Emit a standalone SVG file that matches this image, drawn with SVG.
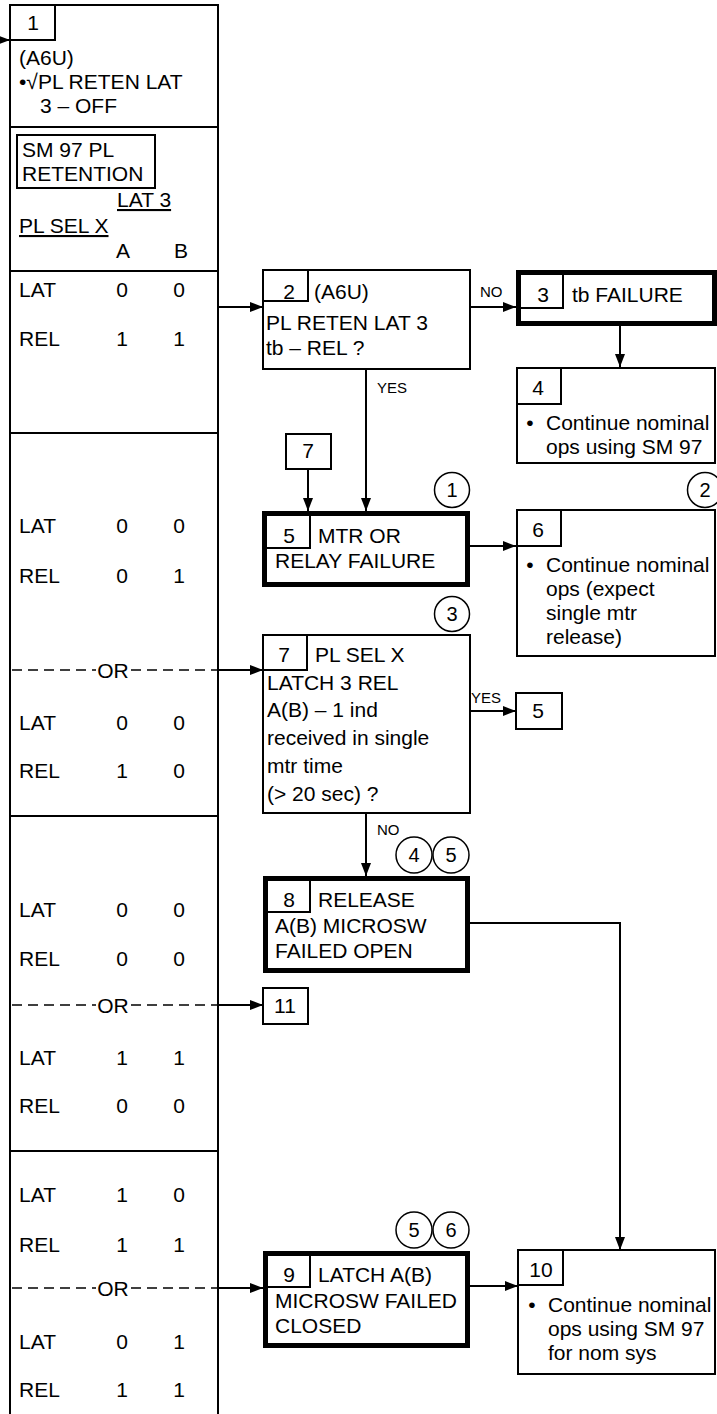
<svg xmlns="http://www.w3.org/2000/svg" width="717" height="1414" viewBox="0 0 717 1414">
<style>
text{font-family:"Liberation Sans",Arial,sans-serif;font-size:21px;fill:#000}
.c{text-anchor:middle}
.lb{font-size:15px}
.cd{font-size:20px;text-anchor:middle}
.bx{fill:#fff;stroke:#000;stroke-width:2}
.tk{fill:#fff;stroke:#000;stroke-width:5}
.ln{fill:none;stroke:#000;stroke-width:2}
.ds{fill:none;stroke:#000;stroke-width:1.5;stroke-dasharray:10 6}
.ci{fill:#fff;stroke:#000;stroke-width:1.5}
</style>
<defs>
<marker id="ah" markerUnits="userSpaceOnUse" markerWidth="13" markerHeight="10" refX="13" refY="5" orient="auto">
<path d="M0,0 L13,5 L0,10 z" fill="#000"/>
</marker>
</defs>

<g id="n1">
<rect class="bx" x="10" y="5" width="208" height="1420" stroke-width="2.5"/>
<path class="ln" d="M10,40 H55 V5"/>
<text class="c" x="33" y="30">1</text>
<text x="19" y="65">(A6U)</text>
<text x="19" y="89">•√PL RETEN LAT</text>
<text x="40" y="113">3 – OFF</text>
<path class="ln" d="M10,127 H218 M10,271 H218 M10,433 H218 M10,816 H218 M10,1151 H218"/>
<rect class="bx" x="17" y="135" width="138" height="53"/>
<text x="22" y="157">SM 97 PL</text>
<text x="22" y="181">RETENTION</text>
<text x="117" y="207" text-decoration="underline">LAT 3</text>
<text x="19" y="233" text-decoration="underline">PL SEL X</text>
<text class="c" x="123" y="258">A</text>
<text class="c" x="181" y="258">B</text>
<g>
<text x="19" y="297">LAT</text><text class="c" x="122" y="297">0</text><text class="c" x="179" y="297">0</text>
<text x="19" y="346">REL</text><text class="c" x="122" y="346">1</text><text class="c" x="179" y="346">1</text>
<text x="19" y="533">LAT</text><text class="c" x="122" y="533">0</text><text class="c" x="179" y="533">0</text>
<text x="19" y="583">REL</text><text class="c" x="122" y="583">0</text><text class="c" x="179" y="583">1</text>
<text class="c" x="113" y="678">OR</text>
<text x="19" y="730">LAT</text><text class="c" x="122" y="730">0</text><text class="c" x="179" y="730">0</text>
<text x="19" y="778">REL</text><text class="c" x="122" y="778">1</text><text class="c" x="179" y="778">0</text>
<text x="19" y="917">LAT</text><text class="c" x="122" y="917">0</text><text class="c" x="179" y="917">0</text>
<text x="19" y="966">REL</text><text class="c" x="122" y="966">0</text><text class="c" x="179" y="966">0</text>
<text class="c" x="113" y="1013">OR</text>
<text x="19" y="1065">LAT</text><text class="c" x="122" y="1065">1</text><text class="c" x="179" y="1065">1</text>
<text x="19" y="1113">REL</text><text class="c" x="122" y="1113">0</text><text class="c" x="179" y="1113">0</text>
<text x="19" y="1202">LAT</text><text class="c" x="122" y="1202">1</text><text class="c" x="179" y="1202">0</text>
<text x="19" y="1252">REL</text><text class="c" x="122" y="1252">1</text><text class="c" x="179" y="1252">1</text>
<text class="c" x="113" y="1296">OR</text>
<text x="19" y="1349">LAT</text><text class="c" x="122" y="1349">0</text><text class="c" x="179" y="1349">1</text>
<text x="19" y="1397">REL</text><text class="c" x="122" y="1397">1</text><text class="c" x="179" y="1397">1</text>
</g>
</g>

<g id="n2">
<rect class="bx" x="263" y="270" width="207" height="99"/>
<path class="ln" d="M263,301 H308 V270"/>
<text class="c" x="289" y="299">2</text>
<text x="314" y="299">(A6U)</text>
<text x="266" y="330">PL RETEN LAT 3</text>
<text x="266" y="355">tb – REL ?</text>
</g>

<g id="n3">
<rect class="tk" x="518.5" y="272.5" width="196" height="51"/>
<path class="ln" d="M521,308 H563 V275"/>
<text class="c" x="543" y="302">3</text>
<text x="572" y="302">tb FAILURE</text>
</g>

<g id="n4">
<rect class="bx" x="517" y="368" width="198" height="95"/>
<path class="ln" d="M517,404 H561 V368"/>
<text class="c" x="538" y="395">4</text>
<text class="c" x="530" y="430">•</text>
<text x="546" y="430">Continue nominal</text>
<text x="546" y="454">ops using SM 97</text>
</g>

<g id="r7a">
<rect class="bx" x="286" y="434" width="45" height="35"/>
<text class="c" x="308" y="458">7</text>
</g>

<g id="n5">
<rect class="tk" x="264.5" y="513.5" width="203" height="71"/>
<path class="ln" d="M267,548 H310 V516"/>
<text class="c" x="289" y="543">5</text>
<text x="318" y="543">MTR OR</text>
<text x="275" y="568">RELAY FAILURE</text>
<circle class="ci" cx="452" cy="490" r="17.5"/>
<text class="cd" x="452" y="497">1</text>
</g>

<g id="n6">
<rect class="bx" x="517" y="510" width="198" height="146"/>
<path class="ln" d="M517,546 H561 V510"/>
<text class="c" x="538" y="537">6</text>
<text class="c" x="530" y="572">•</text>
<text x="546" y="572">Continue nominal</text>
<text x="546" y="596">ops (expect</text>
<text x="546" y="620">single mtr</text>
<text x="546" y="644">release)</text>
<circle class="ci" cx="705" cy="490" r="17.5"/>
<text class="cd" x="705" y="497">2</text>
</g>

<g id="n7">
<rect class="bx" x="263" y="635" width="207" height="178"/>
<path class="ln" d="M263,670 H307 V635"/>
<text class="c" x="284" y="662">7</text>
<text x="315" y="662">PL SEL X</text>
<text x="267" y="690">LATCH 3 REL</text>
<text x="267" y="717">A(B) – 1 ind</text>
<text x="267" y="745">received in single</text>
<text x="267" y="773">mtr time</text>
<text x="267" y="801">(&gt; 20 sec) ?</text>
<circle class="ci" cx="452" cy="614" r="17.5"/>
<text class="cd" x="452" y="621">3</text>
</g>

<g id="r5a">
<rect class="bx" x="516" y="693" width="46" height="36"/>
<text class="c" x="538" y="718">5</text>
</g>

<g id="n8">
<rect class="tk" x="265.5" y="878.5" width="202" height="92"/>
<path class="ln" d="M268,912 H310 V881"/>
<text class="c" x="289" y="907">8</text>
<text x="318" y="907">RELEASE</text>
<text x="275" y="933">A(B) MICROSW</text>
<text x="275" y="958">FAILED OPEN</text>
<circle class="ci" cx="414" cy="855" r="18"/>
<text class="cd" x="414" y="862">4</text>
<circle class="ci" cx="451" cy="855" r="18"/>
<text class="cd" x="451" y="862">5</text>
</g>

<g id="n11">
<rect class="bx" x="263" y="988" width="45" height="36"/>
<text class="c" x="285" y="1013">11</text>
</g>

<g id="n9">
<rect class="tk" x="265.5" y="1253.5" width="202" height="92"/>
<path class="ln" d="M268,1287 H310 V1256"/>
<text class="c" x="289" y="1282">9</text>
<text x="318" y="1282">LATCH A(B)</text>
<text x="275" y="1308">MICROSW FAILED</text>
<text x="275" y="1333">CLOSED</text>
<circle class="ci" cx="414" cy="1230" r="18"/>
<text class="cd" x="414" y="1237">5</text>
<circle class="ci" cx="451" cy="1230" r="18"/>
<text class="cd" x="451" y="1237">6</text>
</g>

<g id="n10">
<rect class="bx" x="518" y="1250" width="197" height="124"/>
<path class="ln" d="M518,1285 H563 V1250"/>
<text class="c" x="541" y="1277">10</text>
<text class="c" x="532" y="1312">•</text>
<text x="548" y="1312">Continue nominal</text>
<text x="548" y="1336">ops using SM 97</text>
<text x="548" y="1360">for nom sys</text>
</g>

<g id="connectors">
<path class="ln" d="M0,40 H10" marker-end="url(#ah)"/>
<path class="ln" d="M219,307 H263" marker-end="url(#ah)"/>
<path class="ln" d="M470,307 H516" marker-end="url(#ah)"/>
<text class="lb" x="480" y="297">NO</text>
<path class="ln" d="M620,326 V367" marker-end="url(#ah)"/>
<path class="ln" d="M366,369 V511" marker-end="url(#ah)"/>
<text class="lb" x="377" y="393">YES</text>
<path class="ln" d="M308,469 V511" marker-end="url(#ah)"/>
<path class="ln" d="M470,546 H516" marker-end="url(#ah)"/>
<path class="ds" d="M12,670 H96 M131,670 H218"/>
<path class="ln" d="M218,670 H263" marker-end="url(#ah)"/>
<path class="ln" d="M470,711 H516" marker-end="url(#ah)"/>
<text class="lb" x="471" y="703">YES</text>
<path class="ln" d="M366,813 V876" marker-end="url(#ah)"/>
<text class="lb" x="377" y="835">NO</text>
<path class="ds" d="M12,1005 H96 M131,1005 H218"/>
<path class="ln" d="M218,1005 H263" marker-end="url(#ah)"/>
<path class="ln" d="M470,923 H620 V1250" marker-end="url(#ah)"/>
<path class="ds" d="M12,1288 H96 M131,1288 H218"/>
<path class="ln" d="M218,1288 H263" marker-end="url(#ah)"/>
<path class="ln" d="M470,1286 H518" marker-end="url(#ah)"/>
</g>
</svg>
